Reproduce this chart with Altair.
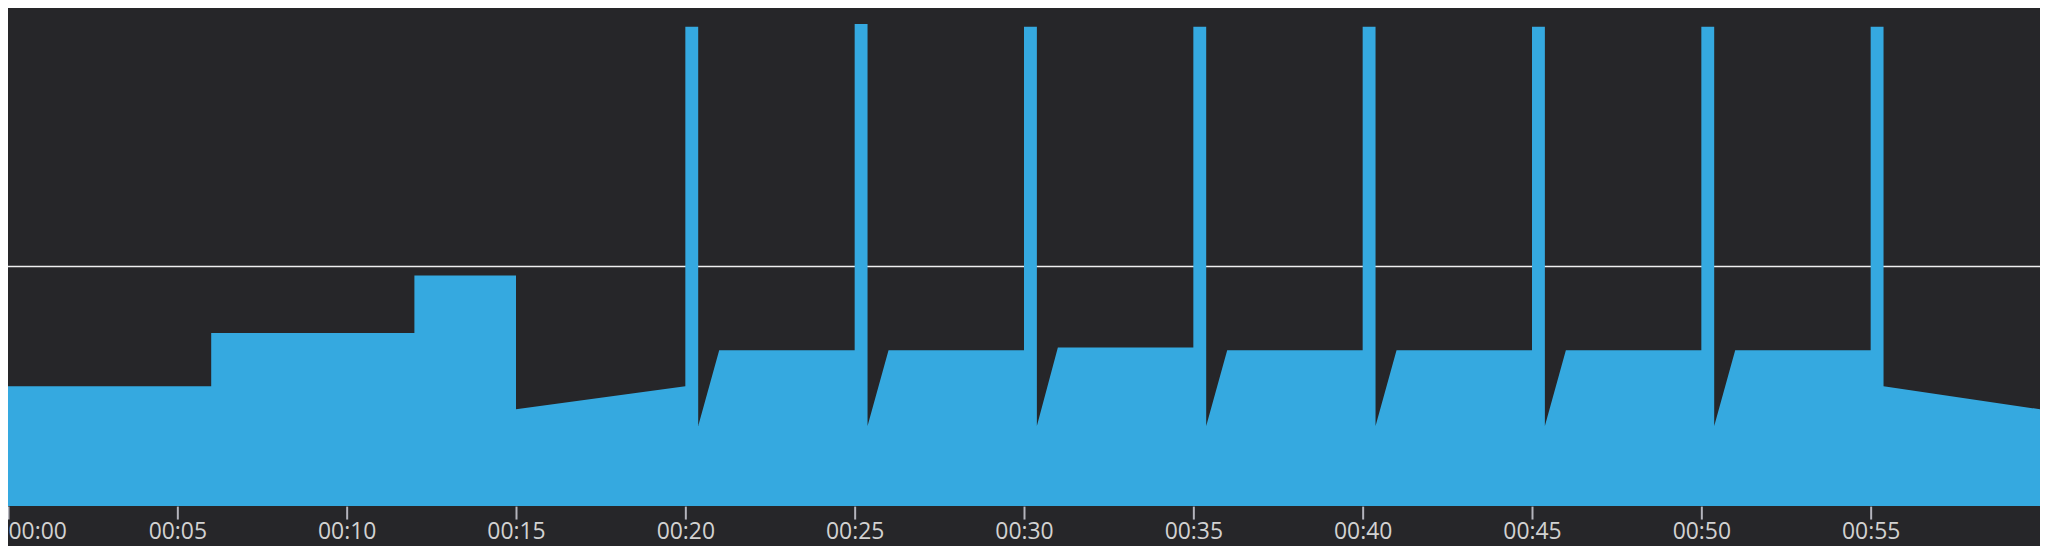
import altair as alt
import pandas as pd

# time in seconds, value in percent
times = [0, 6, 6, 12, 12, 15, 15, 20,
         20, 20.38, 20.38, 21, 25,
         25, 25.38, 25.38, 26, 30,
         30, 30.38, 30.38, 31, 35,
         35, 35.38, 35.38, 36, 40,
         40, 40.38, 40.38, 41, 45,
         45, 45.38, 45.38, 46, 50,
         50, 50.38, 50.38, 51, 55,
         55, 55.38, 55.38, 60]
values = [25, 25, 36.1, 36.1, 48.1, 48.1, 20.2, 25,
          100, 100, 16.7, 32.5, 32.5,
          100.6, 100.6, 16.7, 32.5, 32.5,
          100, 100, 16.7, 33.1, 33.1,
          100, 100, 16.7, 32.5, 32.5,
          100, 100, 16.7, 32.5, 32.5,
          100, 100, 16.7, 32.5, 32.5,
          100, 100, 16.7, 32.5, 32.5,
          100, 100, 25, 20.2]
tick_values = [0, 5, 10, 15, 20, 25, 30, 35, 40, 45, 50, 55]
threshold = [50]

df = pd.DataFrame({"t": times, "v": values})
thr = pd.DataFrame({"y": threshold})

x_scale = alt.Scale(domain=[0, 60], nice=False, zero=False)
y_scale = alt.Scale(domain=[0, 103.7], nice=False)

rule = alt.Chart(thr).mark_rule(color="#f0f0f0", strokeWidth=1.6).encode(
    y=alt.Y("y:Q", scale=y_scale, axis=None)
)

area = alt.Chart(df).mark_area(color="#35a9e0", interpolate="linear", opacity=1).encode(
    x=alt.X(
        "t:Q",
        scale=x_scale,
        title=None,
        axis=alt.Axis(
            values=tick_values,
            labelExpr="'00:' + (datum.value < 10 ? '0' : '') + datum.value",
            domain=False,
            grid=False,
            ticks=True,
            tickSize=13,
            tickWidth=2,
            tickColor="#b4b4bc",
            labelColor="#d2d2d2",
            labelFont="Open Sans",
            labelFontSize=23,
            labelBaseline="alphabetic",
            labelPadding=20,
            labelFlush=True,
        ),
    ),
    y=alt.Y("v:Q", scale=y_scale, axis=None, stack=None),
)

chart = (
    alt.layer(rule, area)
    .properties(
        width=2040,
        height=499,
        background="#262629",
        autosize=alt.AutoSizeParams(type="none"),
        padding={"left": 0, "top": 0, "right": 0, "bottom": 39},
    )
    .configure_view(stroke=None)
)

chart.save("out.html", embed_options={"renderer": "svg", "actions": False})
